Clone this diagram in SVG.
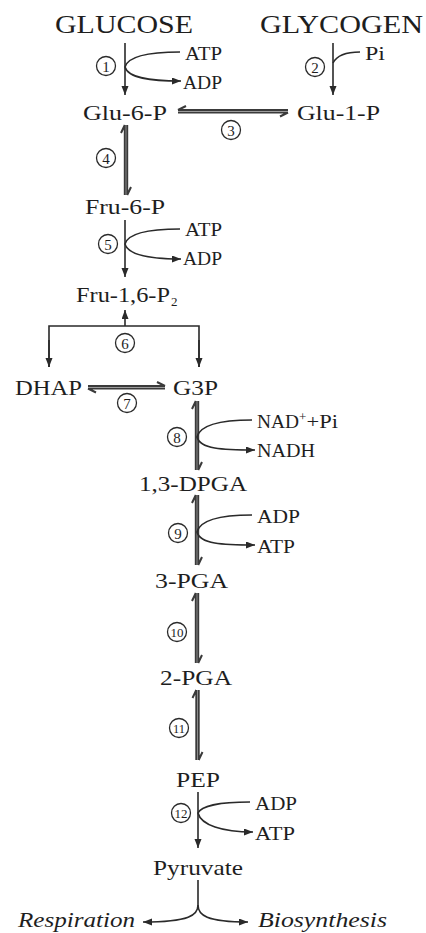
<svg xmlns="http://www.w3.org/2000/svg" width="426" height="933" viewBox="0 0 426 933">
<style>
text{font-family:"Liberation Serif","Times New Roman",serif;fill:#1e1e1e}
.big{font-size:25px}
.met{font-size:21px}
.cof{font-size:19px}
.sub{font-size:13px}
.it{font-size:21px;font-style:italic}
.num{font-size:15px;text-anchor:middle}
.num2{font-size:13px;text-anchor:middle}
.ln{fill:none;stroke:#2a2a2a;stroke-width:1.6}
.dbl{fill:none;stroke:#3a3a3a;stroke-width:2}
.ring{fill:none;stroke:#2a2a2a;stroke-width:1.3}
</style>
<defs>
<marker id="ah" markerUnits="userSpaceOnUse" markerWidth="10" markerHeight="8" refX="9" refY="3.5" orient="auto">
<path d="M0,0 L9,3.5 L0,7 z" fill="#2a2a2a"/>
</marker>
</defs>
<rect width="426" height="933" fill="#fff"/>

<g id="connectors">
<!-- step 1 -->
<line class="ln" x1="125" y1="43" x2="125" y2="95" marker-end="url(#ah)"/>
<path class="ln" d="M180,52 C150,52 128,56 125,67 C128,78 150,81 181,81" marker-end="url(#ah)"/>
<!-- step 2 -->
<line class="ln" x1="333" y1="43" x2="333" y2="95" marker-end="url(#ah)"/>
<path class="ln" d="M333,63 C337,55 348,52 360,52"/>
<!-- step 3 -->
<path class="dbl" d="M178,110 L288,110 M178,112.5 L288,112.5 M178,110 L186,106 M288,112.5 L280,116.5"/>
<!-- step 4 -->
<path class="dbl" d="M124.8,125 L124.8,195 M127.2,125 L127.2,195 M124.8,125 L121,133 M127.2,195 L131,187"/>
<!-- step 5 -->
<line class="ln" x1="125" y1="220" x2="125" y2="277" marker-end="url(#ah)"/>
<path class="ln" d="M180,229 C150,229 128,233 125,244 C128,255 150,259 181,259" marker-end="url(#ah)"/>
<!-- step 6 -->
<line class="ln" x1="125" y1="326" x2="125" y2="310" marker-end="url(#ah)"/>
<path class="ln" d="M49,367 L49,326 L199,326 L199,367"/>
<line class="ln" x1="49" y1="340" x2="49" y2="367" marker-end="url(#ah)"/>
<line class="ln" x1="199" y1="340" x2="199" y2="367" marker-end="url(#ah)"/>
<!-- step 7 -->
<path class="dbl" d="M88,386 L165,386 M88,388.5 L165,388.5 M165,386 L157,382 M88,388.5 L96,392.5"/>
<!-- step 8 -->
<path class="dbl" d="M195.8,401 L195.8,470 M198.2,401 L198.2,470 M195.8,401 L192,409 M198.2,470 L202,462"/>
<path class="ln" d="M252,420 C222,420 200,425 197,437 C200,449 222,450 255,450" marker-end="url(#ah)"/>
<!-- step 9 -->
<path class="dbl" d="M195.8,495 L195.8,565 M198.2,495 L198.2,565 M195.8,495 L192,503 M198.2,565 L202,557"/>
<path class="ln" d="M252,515 C222,515 200,520 197,532 C200,544 222,545 255,545" marker-end="url(#ah)"/>
<!-- step 10 -->
<path class="dbl" d="M195.8,593 L195.8,663 M198.2,593 L198.2,663 M195.8,593 L192,601 M198.2,663 L202,655"/>
<!-- step 11 -->
<path class="dbl" d="M196.3,690 L196.3,760 M198.7,690 L198.7,760 M196.3,690 L192.5,698 M198.7,760 L202.5,752"/>
<!-- step 12 -->
<line class="ln" x1="198" y1="792" x2="198" y2="848" marker-end="url(#ah)"/>
<path class="ln" d="M250,802 C220,802 201,806 198,813 C201,825 222,832 253,832" marker-end="url(#ah)"/>
<!-- pyruvate branch -->
<path class="ln" d="M198,880 L198,905 C198,915 190,922 143,922" marker-end="url(#ah)"/>
<path class="ln" d="M198,905 C198,915 206,922 248,922" marker-end="url(#ah)"/>
</g>

<g id="step-labels">
<g id="s1"><circle class="ring" cx="106" cy="66" r="9.5"/><text class="num" x="106" y="71.5">1</text></g>
<g id="s2"><circle class="ring" cx="315" cy="67" r="9.5"/><text class="num" x="315" y="72.5">2</text></g>
<g id="s3"><circle class="ring" cx="231" cy="130" r="9.5"/><text class="num" x="231" y="135.5">3</text></g>
<g id="s4"><circle class="ring" cx="106" cy="158" r="9.5"/><text class="num" x="106" y="163.5">4</text></g>
<g id="s5"><circle class="ring" cx="108" cy="244" r="9.5"/><text class="num" x="108" y="249.5">5</text></g>
<g id="s6"><circle class="ring" cx="125" cy="343" r="9.5"/><text class="num" x="125" y="348.5">6</text></g>
<g id="s7"><circle class="ring" cx="127" cy="403" r="9.5"/><text class="num" x="127" y="408.5">7</text></g>
<g id="s8"><circle class="ring" cx="177" cy="437" r="9.5"/><text class="num" x="177" y="442.5">8</text></g>
<g id="s9"><circle class="ring" cx="178" cy="533" r="9.5"/><text class="num" x="178" y="538.5">9</text></g>
<g id="s10"><circle class="ring" cx="177" cy="632" r="9.5"/><text class="num2" x="177" y="636.5" textLength="13" lengthAdjust="spacingAndGlyphs">10</text></g>
<g id="s11"><circle class="ring" cx="179" cy="728" r="9.5"/><text class="num2" x="179" y="732.5" textLength="12" lengthAdjust="spacingAndGlyphs">11</text></g>
<g id="s12"><circle class="ring" cx="181" cy="813" r="9.5"/><text class="num2" x="181" y="817.5" textLength="13" lengthAdjust="spacingAndGlyphs">12</text></g>
</g>

<g id="glucose"><text class="big" x="55" y="33" textLength="138" lengthAdjust="spacingAndGlyphs">GLUCOSE</text></g>
<g id="glycogen"><text class="big" x="260" y="33" textLength="163" lengthAdjust="spacingAndGlyphs">GLYCOGEN</text></g>
<g id="glu6p"><text class="met" x="83" y="120" textLength="84" lengthAdjust="spacingAndGlyphs">Glu-6-P</text></g>
<g id="glu1p"><text class="met" x="297" y="120" textLength="83" lengthAdjust="spacingAndGlyphs">Glu-1-P</text></g>
<g id="fru6p"><text class="met" x="85" y="214" textLength="80" lengthAdjust="spacingAndGlyphs">Fru-6-P</text></g>
<g id="fru16p2"><text class="met" x="76" y="302" textLength="94" lengthAdjust="spacingAndGlyphs">Fru-1,6-P</text><text class="sub" x="171" y="306">2</text></g>
<g id="dhap"><text class="met" x="15" y="395" textLength="67" lengthAdjust="spacingAndGlyphs">DHAP</text></g>
<g id="g3p"><text class="met" x="173" y="395" textLength="45" lengthAdjust="spacingAndGlyphs">G3P</text></g>
<g id="dpga13"><text class="met" x="139" y="491" textLength="108" lengthAdjust="spacingAndGlyphs">1,3-DPGA</text></g>
<g id="pga3"><text class="met" x="155" y="588" textLength="73" lengthAdjust="spacingAndGlyphs">3-PGA</text></g>
<g id="pga2"><text class="met" x="160" y="685" textLength="72" lengthAdjust="spacingAndGlyphs">2-PGA</text></g>
<g id="pep"><text class="met" x="176" y="787" textLength="44" lengthAdjust="spacingAndGlyphs">PEP</text></g>
<g id="pyruvate"><text class="met" x="153" y="875" textLength="90" lengthAdjust="spacingAndGlyphs">Pyruvate</text></g>
<g id="respiration"><text class="it" x="18" y="927" textLength="117" lengthAdjust="spacingAndGlyphs">Respiration</text></g>
<g id="biosynthesis"><text class="it" x="258" y="927" textLength="129" lengthAdjust="spacingAndGlyphs">Biosynthesis</text></g>

<g id="cofactors">
<text class="cof" x="185" y="60" textLength="37" lengthAdjust="spacingAndGlyphs">ATP</text>
<text class="cof" x="183" y="89" textLength="39" lengthAdjust="spacingAndGlyphs">ADP</text>
<text class="cof" x="365" y="60" textLength="20" lengthAdjust="spacingAndGlyphs">Pi</text>
<text class="cof" x="185" y="236" textLength="37" lengthAdjust="spacingAndGlyphs">ATP</text>
<text class="cof" x="183" y="265" textLength="39" lengthAdjust="spacingAndGlyphs">ADP</text>
<text class="cof" x="257" y="428" textLength="42" lengthAdjust="spacingAndGlyphs">NAD</text>
<text class="sub" x="299" y="421" font-size="10">+</text>
<text class="cof" x="306.5" y="428" textLength="31.5" lengthAdjust="spacingAndGlyphs">+Pi</text>
<text class="cof" x="257" y="457" textLength="58" lengthAdjust="spacingAndGlyphs">NADH</text>
<text class="cof" x="257" y="523" textLength="43" lengthAdjust="spacingAndGlyphs">ADP</text>
<text class="cof" x="257" y="553" textLength="38" lengthAdjust="spacingAndGlyphs">ATP</text>
<text class="cof" x="255" y="810" textLength="42" lengthAdjust="spacingAndGlyphs">ADP</text>
<text class="cof" x="255" y="840" textLength="40" lengthAdjust="spacingAndGlyphs">ATP</text>
</g>
</svg>
